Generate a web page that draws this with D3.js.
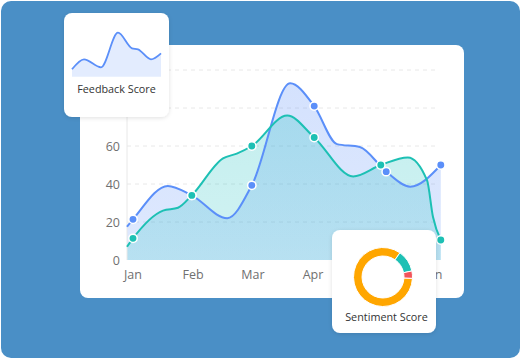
<!DOCTYPE html>
<html><head><meta charset="utf-8">
<script src="https://cdn.jsdelivr.net/npm/d3@7"></script>
<style>body{margin:0;background:#fff}svg{display:block}</style>
</head><body>
<script>
// ---- data ----
const months = ["Jan","Feb","Mar","Apr","May","Jun"];
const yTicks = [0,20,40,60,80,100];
// curve samples: month position (0=Jan) and value
const blueX = [-0.1, 0, 0.58, 0.98, 1.57, 1.98, 2.62, 3.02, 3.4, 3.78, 4.22, 4.62, 5.13];
const blueV = [17.5, 21.4, 39, 34, 22, 39.3, 93, 81, 61, 59.5, 46.5, 38.6, 50];
const blueMarkX = [0, 0.98, 1.98, 3.02, 4.22, 5.13];
const blueMarkV = [21.4, 34, 39.3, 81, 46.5, 50];
const tealX = [-0.1, 0, 0.5, 0.75, 0.98, 1.5, 1.73, 1.98, 2.57, 3.02, 3.67, 4.13, 4.58, 4.9, 5.0, 5.13];
const tealV = [7, 11.4, 26, 27.5, 34, 53.5, 56, 60, 76, 64.5, 44, 50, 54, 42, 22.6, 10.5];
const tealMarkX = [0, 0.98, 1.98, 3.02, 4.13, 5.13];
const tealMarkV = [11.4, 34, 60, 64.5, 50, 10.5];
// sparkline (feedback score)
const sparkX = [0, 12, 29, 46, 60, 66, 79, 89];
const sparkV = [7.4, 17.4, 9.4, 44, 28.4, 27.4, 17.4, 23.4];
// sentiment donut
const sentLabels = ["Positive","Neutral","Negative"];
const sentValues = [84, 12, 4];
const sentColors = ["#FFA600","#1DC0B4","#F2545B"];

const W = 521, H = 359;
const svg = d3.select("body").append("svg").attr("width", W).attr("height", H);
const defs = svg.append("defs");
const f = defs.append("filter").attr("id","sh").attr("x","-20%").attr("y","-20%").attr("width","140%").attr("height","140%");
f.append("feDropShadow").attr("dx",0).attr("dy",1).attr("stdDeviation",2).attr("flood-color","#000").attr("flood-opacity",0.12);
function grad(id, color, o1, o2){
  const lg = defs.append("linearGradient").attr("id",id).attr("x1",0).attr("y1",0).attr("x2",0).attr("y2",1);
  lg.append("stop").attr("offset","0%").attr("stop-color",color).attr("stop-opacity",o1);
  lg.append("stop").attr("offset","100%").attr("stop-color",color).attr("stop-opacity",o2);
}
grad("gb","#5B8FF9",0.26,0.2);
grad("gt","#1DC0C0",0.26,0.2);

// background
svg.append("rect").attr("x",1).attr("y",1).attr("width",519).attr("height",357).attr("rx",10).attr("fill","#4A8FC6");
// main card
svg.append("rect").attr("x",80).attr("y",45).attr("width",384).attr("height",253).attr("rx",8).attr("fill","#fff");

const x = d3.scaleLinear().domain([0,5]).range([133,433]);
const y = d3.scaleLinear().domain([0,100]).range([260,70]);
const font = "'Open Sans', sans-serif";

// grid
const g = svg.append("g");
g.selectAll("line.grid").data(yTicks.filter(d=>d>0)).join("line")
  .attr("x1", x(-0.1)).attr("x2", x(5.1)).attr("y1", d=>y(d)).attr("y2", d=>y(d))
  .attr("stroke","#e8e8e8").attr("stroke-dasharray","4,4");
// y labels
g.selectAll("text.yl").data(yTicks).join("text")
  .attr("x",120).attr("y",d=>y(d)+4.5).attr("text-anchor","end")
  .attr("font-family",font).attr("font-size",12.5).attr("fill","#707070").text(d=>d);
// x labels
g.selectAll("text.xl").data(months).join("text")
  .attr("x",(d,i)=>x(i)).attr("y",279).attr("text-anchor","middle")
  .attr("font-family",font).attr("font-size",12.5).attr("fill","#707070").text(d=>d);

const blue = blueX.map((d,i)=>[d, blueV[i]]);
const teal = tealX.map((d,i)=>[d, tealV[i]]);
const curve = d3.curveMonotoneX;
const area = d3.area().x(d=>x(d[0])).y0(y(0)).y1(d=>y(d[1])).curve(curve);
const line = d3.line().x(d=>x(d[0])).y(d=>y(d[1])).curve(curve);

svg.append("path").attr("d",area(blue)).attr("fill","url(#gb)");
svg.append("path").attr("d",area(teal)).attr("fill","url(#gt)");
// axis line
svg.append("line").attr("x1",x(-0.1)).attr("x2",x(-0.1)).attr("y1",y(100)).attr("y2",y(0)).attr("stroke","#e8e8e8");
svg.append("path").attr("d",line(blue)).attr("fill","none").attr("stroke","#5B8FF9").attr("stroke-width",2);
svg.append("path").attr("d",line(teal)).attr("fill","none").attr("stroke","#1DC0B4").attr("stroke-width",2);

svg.selectAll("circle.bm").data(blueMarkX).join("circle")
  .attr("cx",d=>x(d)).attr("cy",(d,i)=>y(blueMarkV[i])).attr("r",4.2)
  .attr("fill","#5B8FF9").attr("stroke","#fff").attr("stroke-width",1.5);
svg.selectAll("circle.tm").data(tealMarkX).join("circle")
  .attr("cx",d=>x(d)).attr("cy",(d,i)=>y(tealMarkV[i])).attr("r",4.2)
  .attr("fill","#1DC0B4").attr("stroke","#fff").attr("stroke-width",1.5);

// feedback card
svg.append("rect").attr("x",64).attr("y",13).attr("width",105).attr("height",104).attr("rx",8)
  .attr("fill","#fff").attr("filter","url(#sh)");
const sx = d3.scaleLinear().domain([0,89]).range([72,161]);
const sy = d3.scaleLinear().domain([0,50]).range([76.7,26.7]);
const spark = sparkX.map((d,i)=>[d, sparkV[i]]);
svg.append("path").attr("d", d3.area().x(d=>sx(d[0])).y0(sy(0)).y1(d=>sy(d[1])).curve(d3.curveMonotoneX)(spark))
  .attr("fill","#5B8FF9").attr("fill-opacity",0.17);
svg.append("path").attr("d", d3.line().x(d=>sx(d[0])).y(d=>sy(d[1])).curve(d3.curveMonotoneX)(spark))
  .attr("fill","none").attr("stroke","#5B8FF9").attr("stroke-width",1.8);
svg.append("text").attr("x",116.5).attr("y",93).attr("text-anchor","middle")
  .attr("font-family",font).attr("font-size",10.8).attr("fill","#333").text("Feedback Score");

// sentiment card
svg.append("rect").attr("x",332).attr("y",230).attr("width",104).attr("height",103).attr("rx",8)
  .attr("fill","#fff").attr("filter","url(#sh)");
const pie = d3.pie().sort(null).startAngle(92.6*Math.PI/180).endAngle((92.6+360)*Math.PI/180);
const arc = d3.arc().innerRadius(21).outerRadius(29.5);
svg.append("g").attr("transform","translate(383,277)")
  .selectAll("path").data(pie(sentValues)).join("path")
  .attr("d",arc).attr("fill",(d,i)=>sentColors[i]).attr("stroke","#fff").attr("stroke-width",1);
svg.append("text").attr("x",386.5).attr("y",321).attr("text-anchor","middle")
  .attr("font-family",font).attr("font-size",10.8).attr("fill","#333").text("Sentiment Score");
</script>
</body></html>
